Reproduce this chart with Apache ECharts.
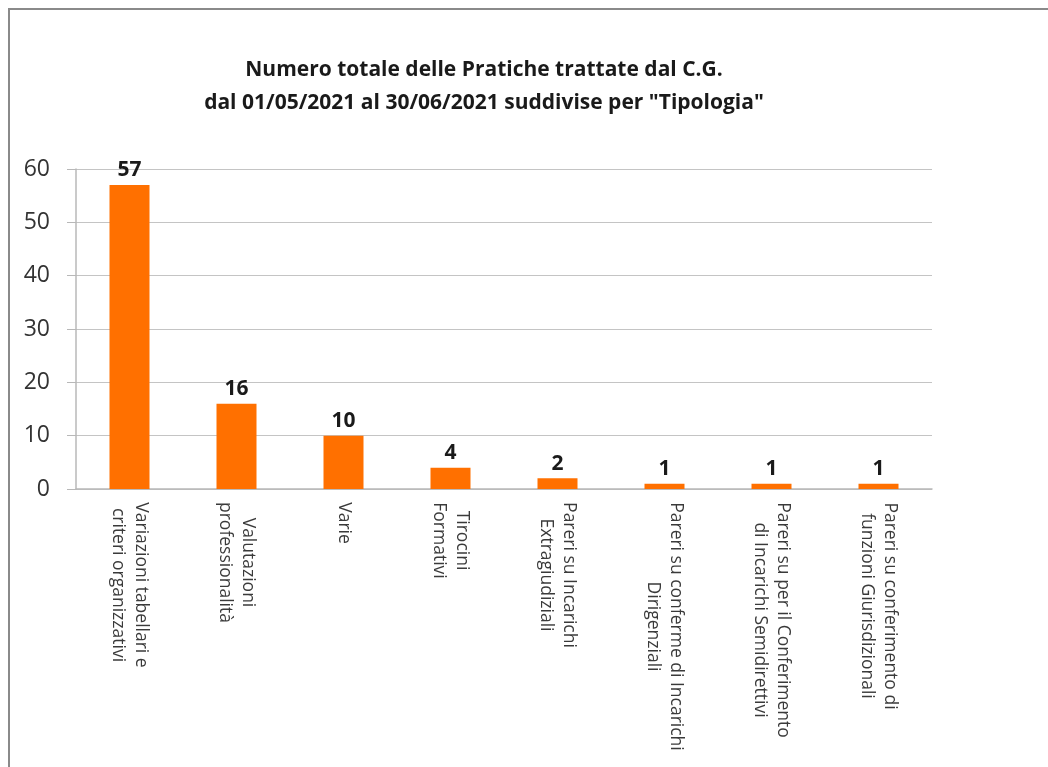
<!DOCTYPE html>
<html>
<head>
    <meta charset="utf-8">
    <title>Pratiche C.G.</title>
    <script src="https://cdn.jsdelivr.net/npm/echarts@6/dist/echarts.min.js"></script>
    <style>
        body { margin: 0; background: #fff; overflow: hidden; }
        #main {
            position: absolute; left: 8px; top: 8px;
            width: 1038px; height: 757px;
            border-left: 2px solid #8a8a8a; border-top: 2px solid #8a8a8a;
        }
    </style>
</head>
<body>
<div id="main"></div>
<script type="text/javascript">
    // dati
    var categorie = [
        'Variazioni tabellari e\ncriteri organizzativi',
        'Valutazioni\nprofessionalità',
        'Varie',
        'Tirocini\nFormativi',
        'Pareri su Incarichi\nExtragiudiziali',
        'Pareri su conferme di Incarichi\nDirigenziali',
        'Pareri su per il Conferimento\ndi Incarichi Semidirettivi',
        'Pareri su conferimento di\nfunzioni Giurisdizionali'
    ];
    var pratiche = [57, 16, 10, 4, 2, 1, 1, 1];
    var tickY = [0, 10, 20, 30, 40, 50, 60];

    var font = '"Open Sans"';

    // ogni riga centrata sulla riga più lunga (come in Excel)
    var cv = document.createElement('canvas').getContext('2d');
    cv.font = '17.5px "Open Sans"';
    var rich = {};
    categorie.forEach(function (c, i) {
        var w = 0;
        c.split('\n').forEach(function (r) { w = Math.max(w, cv.measureText(r).width); });
        rich['c' + i] = { width: Math.ceil(w), align: 'center', fontSize: 17.5, fontFamily: font, color: '#3a3a3a', lineHeight: 23 };
    });

    var myChart = echarts.init(document.getElementById('main'));
    var option = {
        backgroundColor: '#ffffff',
        title: {
            text: 'Numero totale delle Pratiche trattate dal C.G.\ndal 01/05/2021 al 30/06/2021 suddivise per "Tipologia"',
            left: 469,
            textAlign: 'center',
            top: 39,
            textStyle: {
                fontFamily: font,
                fontWeight: 'bold',
                fontSize: 21,
                lineHeight: 33,
                color: '#1a1a1a'
            }
        },
        grid: { left: 66, right: 116, top: 159, bottom: 278 },
        xAxis: {
            type: 'category',
            data: categorie,
            axisLine: { lineStyle: { color: '#b8b8b8', width: 1.5 } },
            axisTick: { show: false },
            axisLabel: {
                interval: 0,
                rotate: -90,
                margin: 13,
                formatter: function (v, i) {
                    return v.split('\n').map(function (r) { return '{c' + i + '|' + r + '}'; }).join('\n');
                },
                rich: rich
            }
        },
        yAxis: {
            type: 'value',
            min: tickY[0],
            max: tickY[tickY.length - 1],
            interval: 10,
            axisLine: { show: true, lineStyle: { color: '#b8b8b8', width: 1.5 } },
            axisTick: { show: true, length: 9, lineStyle: { color: '#b8b8b8' } },
            splitLine: { lineStyle: { color: '#c4c4c4', width: 1.2 } },
            axisLabel: {
                margin: 26,
                fontFamily: font,
                fontSize: 23,
                color: '#333333'
            }
        },
        series: [{
            type: 'bar',
            data: pratiche,
            barWidth: 40,
            itemStyle: { color: '#ff7000' },
            label: {
                show: true,
                position: 'top',
                distance: 4,
                fontFamily: font,
                fontWeight: 'bold',
                fontSize: 21,
                color: '#1a1a1a'
            }
        }]
    };
    myChart.setOption(option);
</script>
</body>
</html>
